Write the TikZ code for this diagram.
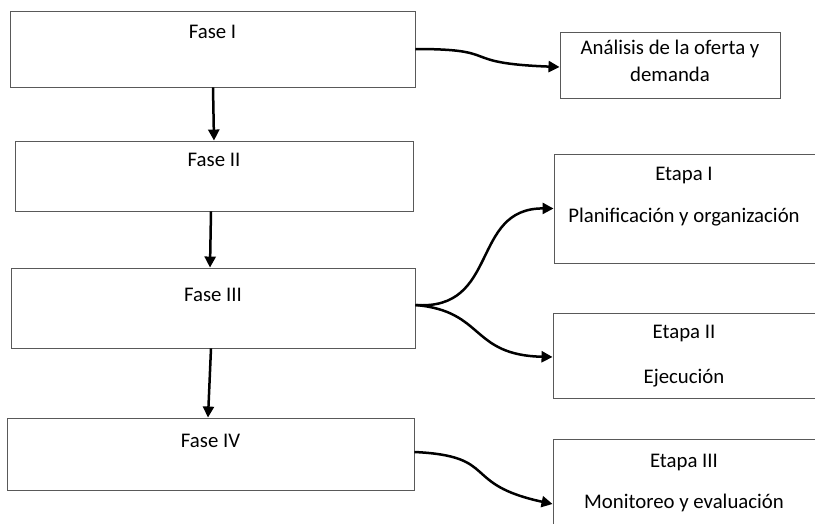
\documentclass[tikz,border=0pt]{standalone}
\usepackage{fontspec}
\setmainfont{Carlito}
\usetikzlibrary{arrows.meta}
\begin{document}
\begin{tikzpicture}[x=1pt,y=-1pt,
  box/.style={draw=black!65, line width=0.9pt, inner sep=0pt, rectangle},
  txt/.style={font=\fontsize{20.8}{24}\selectfont, inner sep=0pt, anchor=center},
  link/.style={line width=2.5pt, -{Triangle[length=11pt,width=11pt]}}]
\useasboundingbox (0,0) rectangle (815,523);
\clip (0,0) rectangle (815,523);

% phases (left column)
\node[box, minimum width=405pt, minimum height=76pt] (f1) at (212.5,49) {};
\node[box, minimum width=398pt, minimum height=70pt] (f2) at (214,176) {};
\node[box, minimum width=404pt, minimum height=80pt] (f3) at (213,308) {};
\node[box, minimum width=407pt, minimum height=72pt] (f4) at (210.5,454) {};
\node[txt] at (212.5,32) {Fase I};
\node[txt] at (214,160) {Fase II};
\node[txt] at (213,295) {Fase III};
\node[txt] at (210.5,441) {Fase IV};

% right column
\node[box, minimum width=220pt, minimum height=66pt] (an) at (670,65) {};
\node[txt] at (670,49) {Análisis de la oferta y};
\node[txt] at (670,74) {demanda};

\node[box, minimum width=264pt, minimum height=109pt] (e1) at (686,208.5) {};
\node[txt] at (684,175) {Etapa I};
\node[txt] at (684,217) {Planificación y organización};

\node[box, minimum width=264pt, minimum height=85pt] (e2) at (685,356) {};
\node[txt] at (684,333) {Etapa II};
\node[txt] at (684,378) {Ejecución};

\node[box, minimum width=264pt, minimum height=110pt] (e3) at (685,494) {};
\node[txt] at (684,462) {Etapa III};
\node[txt] at (684,503) {Monitoreo y evaluación};

% vertical flow between phases
\draw[link] ([xshift=0.5pt]f1.south) -- ([xshift=0pt]f2.north);
\draw[link] ([xshift=-3pt]f2.south) -- ([xshift=-3pt]f3.north);
\draw[link] ([xshift=-2pt]f3.south) -- ([xshift=-2.5pt]f4.north);

% branches to the right
\coordinate (f1r) at (f1.east);
\coordinate (f3r) at (f3.east);
\coordinate (f4r) at ([yshift=2pt]f4.east);
\draw[link] (f1r) .. controls (505,49) and (455,63) .. ([yshift=-2pt]an.west);
\draw[link] ([yshift=3pt]f3r) .. controls (500,311) and (470,208) .. (e1.west);
\draw[link] ([yshift=3pt]f3r) .. controls (485,311) and (470,355) .. ([yshift=-1pt]e2.west);
\draw[link] (f4r) .. controls (500,456) and (460,484) .. ([yshift=-10pt]e3.west);
\end{tikzpicture}
\end{document}
